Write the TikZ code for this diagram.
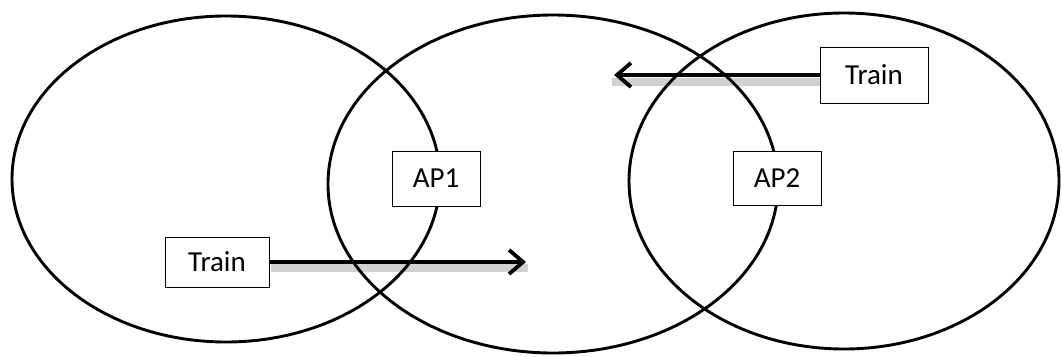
\documentclass[tikz,border=0pt]{standalone}
\usepackage{fontspec}
\setmainfont{Carlito}
\usetikzlibrary{shapes.geometric,arrows.meta,backgrounds}
\begin{document}
\begin{tikzpicture}[x=1pt,y=-1pt,
  cell/.style={ellipse,draw,line width=2.9pt,inner sep=0pt},
  label box/.style={draw,fill=white,line width=0.9pt,inner sep=0pt,
    font=\fontsize{29}{32}\selectfont},
  move/.style={line width=3.8pt,-{Straight Barb[length=14pt,width=24pt,line width=3.8pt]}},
  move shadow/.style={line width=8pt,draw=black!18}]
  \useasboundingbox (0,0) rectangle (1062,356);

  % coverage areas
  \node[cell,minimum width=428pt,minimum height=326pt] (c1) at (226,179) {};
  \node[cell,minimum width=450pt,minimum height=338pt] (c2) at (553,184) {};
  \node[cell,minimum width=430pt,minimum height=336pt] (c3) at (844,181) {};

  % access points and trains
  \node[label box,minimum width=88pt,minimum height=55pt] (ap1) at (436,178.5) {AP1};
  \node[label box,minimum width=88pt,minimum height=54pt] (ap2) at (777,178.5) {AP2};
  \node[label box,minimum width=104pt,minimum height=50pt] (trainA) at (217,262) {Train};
  \node[label box,minimum width=108pt,minimum height=56pt] (trainB) at (874,75) {Train};

  % direction of travel, with a soft drop shadow behind
  \coordinate (endA) at (526,262);
  \coordinate (endB) at (614,75);
  \begin{scope}[on background layer]
    \draw[move shadow] ([shift={(2,6)}]trainA.east) -- ([shift={(2,6)}]endA);
    \draw[move shadow] ([shift={(2,7)}]trainB.west) -- ([shift={(-2,7)}]endB);
  \end{scope}
  \draw[move] (trainA.east) -- (endA);
  \draw[move] (trainB.west) -- (endB);
\end{tikzpicture}
\end{document}
